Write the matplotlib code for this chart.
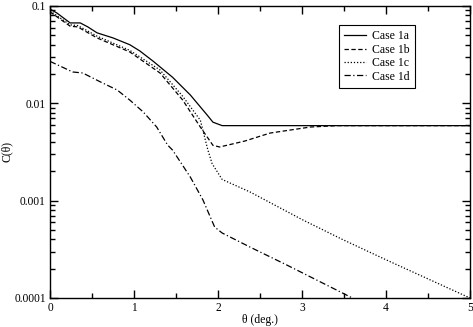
import matplotlib
matplotlib.use("Agg")
import matplotlib.pyplot as plt
from matplotlib.ticker import MultipleLocator, LogLocator, NullFormatter, FixedLocator

plt.rcParams['font.family'] = ['Liberation Serif', 'DejaVu Serif']
plt.rcParams['font.size'] = 8

# Case 1a (solid)
theta_a = [0, 0.08, 0.24, 0.36, 0.45, 0.56, 0.75, 0.95, 1.07, 1.23, 1.46, 1.67, 1.87, 1.94, 2.05, 3.0, 4.0, 5.0]
c_a = [0.093, 0.085, 0.067, 0.067, 0.061, 0.053, 0.047, 0.040, 0.0345, 0.027, 0.0185, 0.0122, 0.0076, 0.0064, 0.0059, 0.0059, 0.0059, 0.0059]

# Case 1b (dashed)
theta_b = [0, 0.24, 0.33, 0.56, 0.95, 1.31, 1.58, 1.79, 1.94, 2.02, 2.32, 2.62, 3.1, 3.42, 4.0, 5.0]
c_b = [0.087, 0.062, 0.061, 0.047, 0.0337, 0.0205, 0.0108, 0.0057, 0.0037, 0.00356, 0.0041, 0.00495, 0.00571, 0.0059, 0.0059, 0.0059]

# Case 1c (dotted)
theta_c = [0, 0.24, 0.33, 0.56, 0.95, 1.31, 1.58, 1.79, 1.88, 1.93, 2.05, 2.38, 3.0, 3.48, 4.0, 5.0]
c_c = [0.089, 0.064, 0.063, 0.049, 0.035, 0.022, 0.0118, 0.0067, 0.0033, 0.0024, 0.00165, 0.00123, 0.00064, 0.0004, 0.000247, 0.0001]

# Case 1d (dash-dot)
theta_d = [0, 0.27, 0.39, 0.6, 0.8, 0.95, 1.11, 1.27, 1.40, 1.46, 1.67, 1.82, 1.96, 2.05, 2.38, 2.82, 3.6]
c_d = [0.027, 0.021, 0.0205, 0.0166, 0.0137, 0.0108, 0.00815, 0.00571, 0.00373, 0.0033, 0.00175, 0.00102, 0.000536, 0.000465, 0.000334, 0.000218, 0.0001]

labels = ["Case 1a", "Case 1b", "Case 1c", "Case 1d"]

fig = plt.figure(figsize=(4.73, 3.27), dpi=100)
ax = fig.add_axes([50/473, 29/327, 420/473, 292/327])

lw = 0.9
ax.plot(theta_a, c_a, color='black', lw=lw, ls='-', label=labels[0])
ax.plot(theta_b, c_b, color='black', lw=lw, ls=(0, (3.5, 2)), label=labels[1])
ax.plot(theta_c, c_c, color='black', lw=lw, ls=(0, (1, 1.5)), label=labels[2])
ax.plot(theta_d, c_d, color='black', lw=lw, ls=(0, (5, 2, 1, 2)), label=labels[3])

ax.set_yscale('log')
ax.set_xlim(0, 5)
ax.set_ylim(0.0001, 0.1)

ax.xaxis.set_major_locator(MultipleLocator(1))
ax.xaxis.set_minor_locator(MultipleLocator(0.5))
ax.yaxis.set_major_locator(FixedLocator([0.0001, 0.001, 0.01, 0.1]))
ax.yaxis.set_minor_locator(LogLocator(base=10, subs=range(2, 10)))
ax.yaxis.set_minor_formatter(NullFormatter())
ax.set_yticklabels(["0.0001", "0.001", "0.01", "0.1"])

ax.tick_params(which='both', direction='in', top=True, right=True, labelsize=8.3, width=1.0)
ax.tick_params(which='major', length=6)
ax.tick_params(which='minor', length=3.5)
ax.tick_params(axis='x', pad=3)
ax.tick_params(axis='y', pad=3)
for s in ax.spines.values():
    s.set_linewidth(1.0)

fig.text(260/473, 1 - 320/327, "θ (deg.)", fontsize=8.5, ha='center', va='center')
fig.text(7/473, 1 - 152/327, "C(θ)", fontsize=8.5, ha='center', va='center', rotation=90)

leg = ax.legend(loc='upper right', bbox_to_anchor=(0.869, 0.935), fontsize=8.5,
                frameon=True, fancybox=False, edgecolor='black', framealpha=1,
                labelspacing=0.12, handlelength=1.8, handletextpad=0.55, borderpad=0.45,
                borderaxespad=0)
leg.get_frame().set_linewidth(0.8)

fig.savefig("out.png", dpi=100)
